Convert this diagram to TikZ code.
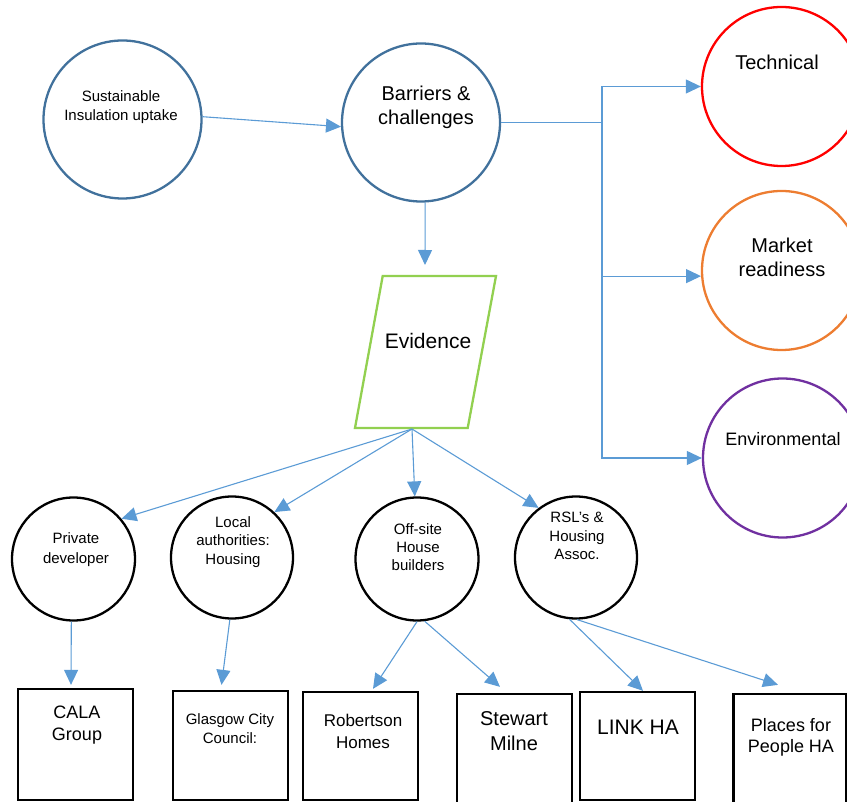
\documentclass[tikz,border=0pt]{standalone}
\usepackage{fontspec}
\setmainfont{Liberation Sans}
\usetikzlibrary{arrows.meta}
\definecolor{conncol}{HTML}{5B9BD5}
\definecolor{topcol}{HTML}{41719C}
\definecolor{redcol}{HTML}{FF0000}
\definecolor{orcol}{HTML}{ED7D31}
\definecolor{purcol}{HTML}{7030A0}
\definecolor{grcol}{HTML}{92D050}
\begin{document}
\begin{tikzpicture}[x=1pt,y=-1pt,
  arrowline/.style={draw=conncol, line width=1.1pt, -{Triangle[length=15pt,width=14pt]}},
  wire/.style={draw=conncol, line width=1.1pt},
  topcirc/.style={circle, draw=topcol, line width=2.3pt, minimum size=158pt, inner sep=0pt},
  sidecirc/.style={circle, line width=2.3pt, minimum size=159pt, inner sep=0pt},
  smallcirc/.style={circle, draw=black, line width=2.3pt, minimum size=123pt, inner sep=0pt},
  orgbox/.style={rectangle, draw=black, line width=2.3pt, minimum width=115pt, inner sep=0pt},
  lbl/.style={inner sep=0pt, align=center, text=black},
  f15/.style={font=\fontsize{15}{19}\selectfont},
  f20/.style={font=\fontsize{20}{24}\selectfont},
]
\useasboundingbox (0,0) rectangle (847,802);
\clip (0,0) rectangle (847,802);

% top circles
\node[topcirc] (sust) at (122.5,119.5) {};
\node[topcirc] (barr) at (421,122.5) {};
\node[lbl,f15] (tsust) at (121,107) {Sustainable\\Insulation uptake};
\node[lbl,f20] (tbarr) at (426,107) {Barriers \&\\challenges};

% side circles
\node[sidecirc, draw=redcol] (tech) at (781.5,86.5) {};
\node[sidecirc, draw=orcol] (mkt) at (781.5,270.5) {};
\node[sidecirc, draw=purcol] (env) at (782.5,458) {};
\node[lbl,f20] (ttech) at (777,62) {Technical};
\node[lbl,f20] (tmkt) at (782,257) {Market\\readiness};
\node[lbl,font=\fontsize{18}{22}\selectfont] (tenv) at (783,439) {Environmental};

% evidence parallelogram
\coordinate (e1) at (382.7,276);
\coordinate (e2) at (496,276);
\coordinate (e3) at (467.7,428);
\coordinate (e4) at (355,428);
\draw[draw=grcol, line width=2.3pt, line join=miter] (e1) -- (e2) -- (e3) -- (e4) -- cycle;
\node[lbl,font=\fontsize{21}{25}\selectfont] (ev) at (428,341) {Evidence};
\coordinate (evtop) at (425,265);
\coordinate (evb) at (412,429);

% small circles
\node[smallcirc] (priv) at (73.5,559) {};
\node[smallcirc, minimum size=122pt] (local) at (232,557.5) {};
\node[smallcirc] (off) at (417,559) {};
\node[smallcirc, minimum size=122pt] (rsl) at (576,557.5) {};
\node[lbl,font=\fontsize{15}{20}\selectfont] (tpriv) at (76,550) {Private\\developer};
\node[lbl,font=\fontsize{15}{18.5}\selectfont] (tlocal) at (233,542) {Local\\authorities:\\Housing};
\node[lbl,font=\fontsize{15}{18}\selectfont] (toff) at (418,547.5) {Off-site\\House\\builders};
\node[lbl,font=\fontsize{15}{18.5}\selectfont] (trsl) at (577,536) {RSL's \&\\Housing\\Assoc.};

% boxes
\node[orgbox, minimum height=111pt] (cala) at (75.5,744.5) {};
\node[orgbox, minimum height=109pt] (glas) at (230.5,745.5) {};
\node[orgbox, minimum height=108pt] (rob) at (360.5,746) {};
\node[orgbox, minimum height=114pt] (stew) at (514.5,751) {};
\node[orgbox, minimum height=108pt] (link) at (637.5,746) {};
\node[orgbox, minimum height=114pt, minimum width=113pt] (places) at (790,751) {};
\node[lbl,font=\fontsize{18}{22}\selectfont] (tcala) at (77,725) {CALA\\Group};
\node[lbl,f15] (tglas) at (230,728.5) {Glasgow City\\Council:};
\node[lbl,font=\fontsize{17}{22}\selectfont] (trob) at (363,731) {Robertson\\Homes};
\node[lbl,font=\fontsize{20}{25}\selectfont] (tstew) at (514,731.5) {Stewart\\Milne};
\node[lbl,font=\fontsize{21}{25}\selectfont] (tlink) at (638,727) {LINK HA};
\node[lbl,font=\fontsize{18}{21}\selectfont] (tplaces) at (791,737) {Places for\\People HA};

% connectors: top
\draw[arrowline] (sust.2) -- (barr.183);
\draw[arrowline] (barr.273) -- (evtop);
\coordinate (br) at (602,122.5);
\draw[wire] (barr.east) -- (br);
\draw[arrowline] (br) |- (tech.west);
\draw[arrowline] (br) |- (env.west);
\draw[arrowline] (br |- mkt.184) -- (mkt.184);

% evidence to groups
\draw[arrowline] (evb) -- (priv.40);
\draw[arrowline] (evb) -- (local.47);
\draw[arrowline] (evb) -- (off.92);
\draw[arrowline] (evb) -- (rsl.127);

% groups to organisations
\draw[arrowline] (priv.268) -- ([xshift=-4.5pt,yshift=3pt]cala.north);
\draw[arrowline] (local.268) -- ([xshift=-9pt,yshift=5pt]glas.north);
\draw[arrowline] (off.270) -- ([xshift=12.5pt,yshift=2pt]rob.north);
\draw[arrowline] (off.277) -- ([xshift=-14.5pt,yshift=6pt]stew.north);
\draw[arrowline] (rsl.264) -- ([xshift=5.5pt]link.north);
\draw[arrowline] (rsl.271) -- ([xshift=-12pt,yshift=8pt]places.north);
\end{tikzpicture}
\end{document}
